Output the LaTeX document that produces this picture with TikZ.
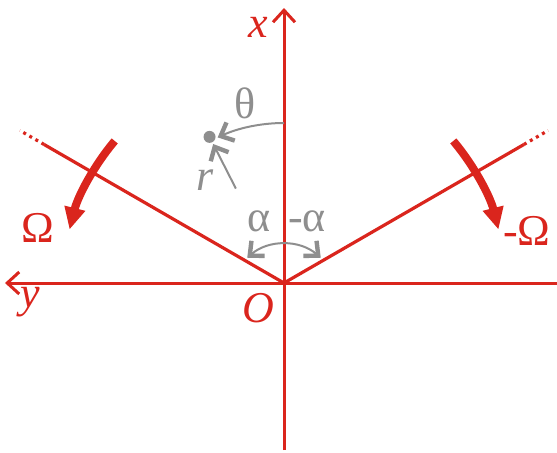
\documentclass[tikz,border=0pt]{standalone}
\usepackage{fontspec}
\setmainfont{Liberation Serif}
\usetikzlibrary{arrows.meta,calc}
\definecolor{axisred}{HTML}{DA251D}
\definecolor{markgray}{HTML}{8E8E8E}

\begin{document}
\begin{tikzpicture}[
  x=0.5pt, y=0.5pt,
  axis/.style={draw=axisred, line width=1.5pt,
    -{Straight Barb[length=6pt,width=11pt,line width=1.5pt]}},
  plane/.style={draw=axisred, line width=1.6pt},
  ext/.style={draw=axisred, line width=1.6pt, dash pattern=on 1.5pt off 2pt},
  spin/.style={draw=axisred, line width=4pt,
    -{Triangle[length=11pt,width=10pt]}},
  guide/.style={draw=markgray, line width=1pt,
    -{Straight Barb[length=5.5pt,width=10pt,line width=2.2pt]}},
  lbl/.style={font=\fontsize{22}{26}\selectfont, inner sep=0pt},
  redlbl/.style={lbl, text=axisred},
  graylbl/.style={lbl, text=markgray},
  dotnode/.style={circle, fill=markgray, inner sep=0pt, minimum size=6pt}
]
\useasboundingbox (0,0) rectangle (557,452);

% axes
\coordinate (O) at (284,169);
\coordinate (xtop) at (284,444);
\coordinate (xbot) at (284,2);
\coordinate (ystart) at (557,169);
\coordinate (yend) at (5,169);
\draw[axis] (xbot) -- (xtop);
\draw[axis] (ystart) -- (yend);

% the two planes
\coordinate (Lend) at ($(O)+(150:277)$);
\coordinate (Ldot) at ($(O)+(150:305)$);
\coordinate (Rend) at ($(O)+(30:277)$);
\coordinate (Rdot) at ($(O)+(30:305)$);
\draw[plane] (O) -- (Lend);
\draw[ext] (Lend) -- (Ldot);
\draw[plane] (O) -- (Rend);
\draw[ext] (Rend) -- (Rdot);

% rotations
\coordinate (wL) at ($(O)+(140:221)$);
\coordinate (wR) at ($(O)+(40:221)$);
\draw[spin] (wL) arc[start angle=140, end angle=166, radius=221];
\draw[spin] (wR) arc[start angle=40, end angle=14, radius=221];

% point in polar coordinates
\node[dotnode] (P) at ($(O)+(117:164)$) {};
\coordinate (th0) at ($(O)+(90:160)$);
\draw[guide] (th0) arc[start angle=90, end angle=114.5, radius=160];
\coordinate (r0) at ($(O)+(117:106)$);
\coordinate (r1) at ($(O)+(117:156)$);
\draw[guide] (r0) -- (r1);

% half angle
\coordinate (C) at (284,152);
\coordinate (a0) at ($(C)+(131:56)$);
\draw[guide, {Straight Barb[length=5.5pt,width=10pt,line width=2.2pt]}-{Straight Barb[length=5.5pt,width=10pt,line width=2.2pt]}]
  (a0) arc[start angle=131, end angle=49, radius=56];

% labels
\node[redlbl] (xlab) at (258,425) {\itshape x};
\node[redlbl] (ylab) at (30,150) {\itshape y};
\node[redlbl] (Olab) at (258,144) {\itshape O};
\node[redlbl] (WL) at (38,224) {Ω};
\node[redlbl] (WR) at (527,221) {-Ω};
\node[graylbl] (thlab) at (245,349) {θ};
\node[graylbl] (rlab) at (205,272) {\itshape r};
\node[graylbl] (alab) at (259,231) {α};
\node[graylbl] (malab) at (307,231) {-α};

\end{tikzpicture}
\end{document}
